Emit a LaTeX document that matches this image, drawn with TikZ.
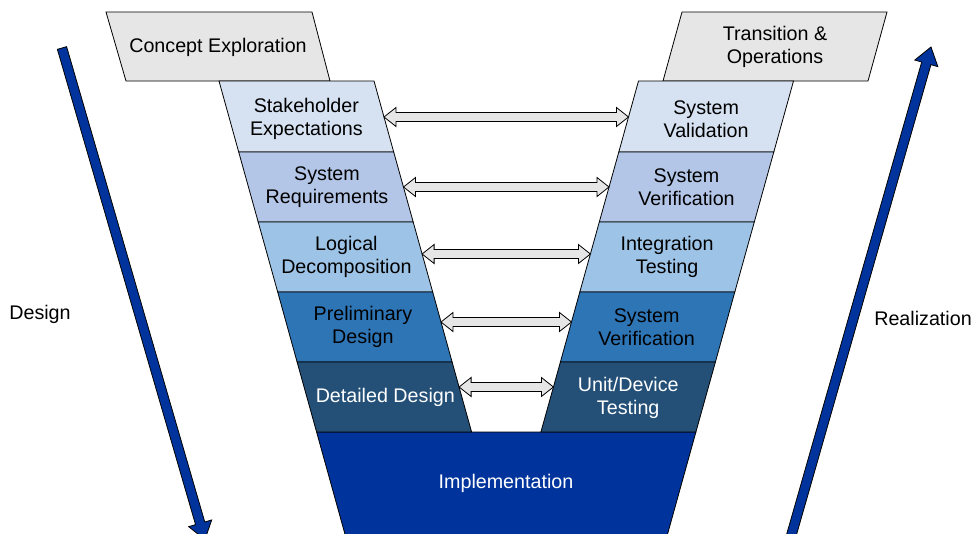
\documentclass[tikz,border=0pt]{standalone}
\usepackage{fontspec}
\setmainfont{Liberation Sans}
\usetikzlibrary{calc}
\definecolor{grayfill}{HTML}{E6E6E6}
\definecolor{cA}{HTML}{D6E2F2}
\definecolor{cB}{HTML}{B4C6E7}
\definecolor{cC}{HTML}{9DC3E6}
\definecolor{cD}{HTML}{2E75B6}
\definecolor{cE}{HTML}{245078}
\definecolor{impl}{HTML}{00349C}
\newcommand\dblarr[2]{\draw[darr] (#1) -- ++(12,-9.5) -- ++(0,5) -- ($(#2)+(-12,-4.5)$) -- ++(0,-5) -- (#2) -- ++(-12,9.5) -- ++(0,-5) -- ($(#1)+(12,4.5)$) -- ++(0,5) -- cycle;}
\begin{document}
\begin{tikzpicture}[x=1pt,y=-1pt,
  band/.style={draw=black, line width=0.8pt, line join=miter},
  darr/.style={draw=black, line width=0.8pt, fill=grayfill},
  bigarr/.style={draw=black, line width=0.8pt, fill=impl},
  lbl/.style={align=center, font=\fontsize{19.7}{23}\selectfont, text=black, inner sep=0pt},
  wlbl/.style={lbl, text=white}]
\clip (0,0) rectangle (974,533);
\fill[white] (0,0) rectangle (974,533);
% top gray boxes
\draw[band, fill=grayfill] (106,12) -- (312,12) -- (330,81) -- (126,81) -- cycle;
\draw[band, fill=grayfill] (682,12) -- (887,12) -- (868,81) -- (663,81) -- cycle;
% implementation
\draw[band, fill=impl] (316.6,432) -- (695.9,432) -- (665.9,540) -- (346.6,540) -- cycle;
% left bands
\draw[band, fill=cA] (219,81) -- (374,81) -- (393.7,152) -- (238.7,152) -- cycle;
\draw[band, fill=cB] (238.7,152) -- (393.7,152) -- (413.2,222) -- (258.2,222) -- cycle;
\draw[band, fill=cC] (258.2,222) -- (413.2,222) -- (432.7,292) -- (277.7,292) -- cycle;
\draw[band, fill=cD] (277.7,292) -- (432.7,292) -- (452.1,362) -- (297.1,362) -- cycle;
\draw[band, fill=cE] (297.1,362) -- (452.1,362) -- (471.6,432) -- (316.6,432) -- cycle;
% right bands
\draw[band, fill=cA] (638.5,81) -- (793.5,81) -- (773.8,152) -- (618.8,152) -- cycle;
\draw[band, fill=cB] (618.8,152) -- (773.8,152) -- (754.3,222) -- (599.3,222) -- cycle;
\draw[band, fill=cC] (599.3,222) -- (754.3,222) -- (734.8,292) -- (579.8,292) -- cycle;
\draw[band, fill=cD] (579.8,292) -- (734.8,292) -- (715.4,362) -- (560.4,362) -- cycle;
\draw[band, fill=cE] (560.4,362) -- (715.4,362) -- (695.9,432) -- (540.9,432) -- cycle;
% labels
\node[lbl] (concept) at (218,47) {Concept Exploration};
\node[lbl] (transop) at (775,47) {Transition \&\\Operations};
\node[lbl] (stake) at (306.4,119) {Stakeholder\\Expectations};
\node[lbl] (sysreq) at (327,187) {System\\Requirements};
\node[lbl] (logdec) at (346.4,257) {Logical\\Decomposition};
\node[lbl] (prelim) at (362.9,327) {Preliminary\\Design};
\node[wlbl] (detail) at (385.3,397) {Detailed Design};
\node[lbl] (sysval) at (706.1,119) {System\\Validation};
\node[lbl] (sysver) at (686.5,187) {System\\Verification};
\node[lbl] (integ) at (667.1,257) {Integration\\Testing};
\node[lbl] (sysver2) at (646.6,327) {System\\Verification};
\node[wlbl] (unit) at (628.2,398) {Unit/Device\\Testing};
\node[wlbl] (implement) at (506,483) {Implementation};
\node[lbl] (design) at (40,314) {Design};
\node[lbl] (realiz) at (923,318) {Realization};
% double arrows
\coordinate (l1) at (384,117);   \coordinate (r1) at (628.5,117);
\coordinate (l2) at (403.5,187); \coordinate (r2) at (609,187);
\coordinate (l3) at (422.1,254); \coordinate (r3) at (590.4,254);
\coordinate (l4) at (441,322);   \coordinate (r4) at (571.5,322);
\coordinate (l5) at (459.1,387); \coordinate (r5) at (553.4,387);
\dblarr{l1}{r1}
\dblarr{l2}{r2}
\dblarr{l3}{r3}
\dblarr{l4}{r4}
\dblarr{l5}{r5}
% big arrows
\begin{scope}[shift={(62,48)}, rotate=-73.79]
\draw[bigarr] (0,-4.8) -- (495,-4.8) -- (495,-12) -- (512,0) -- (495,12) -- (495,4.8) -- (0,4.8) -- cycle;
\end{scope}
\begin{scope}[shift={(792,533)}, rotate=74.04]
\draw[bigarr] (-20,-4.8) -- (488.5,-4.8) -- (488.5,-12) -- (505.5,0) -- (488.5,12) -- (488.5,4.8) -- (-20,4.8) -- cycle;
\end{scope}
\end{tikzpicture}
\end{document}
